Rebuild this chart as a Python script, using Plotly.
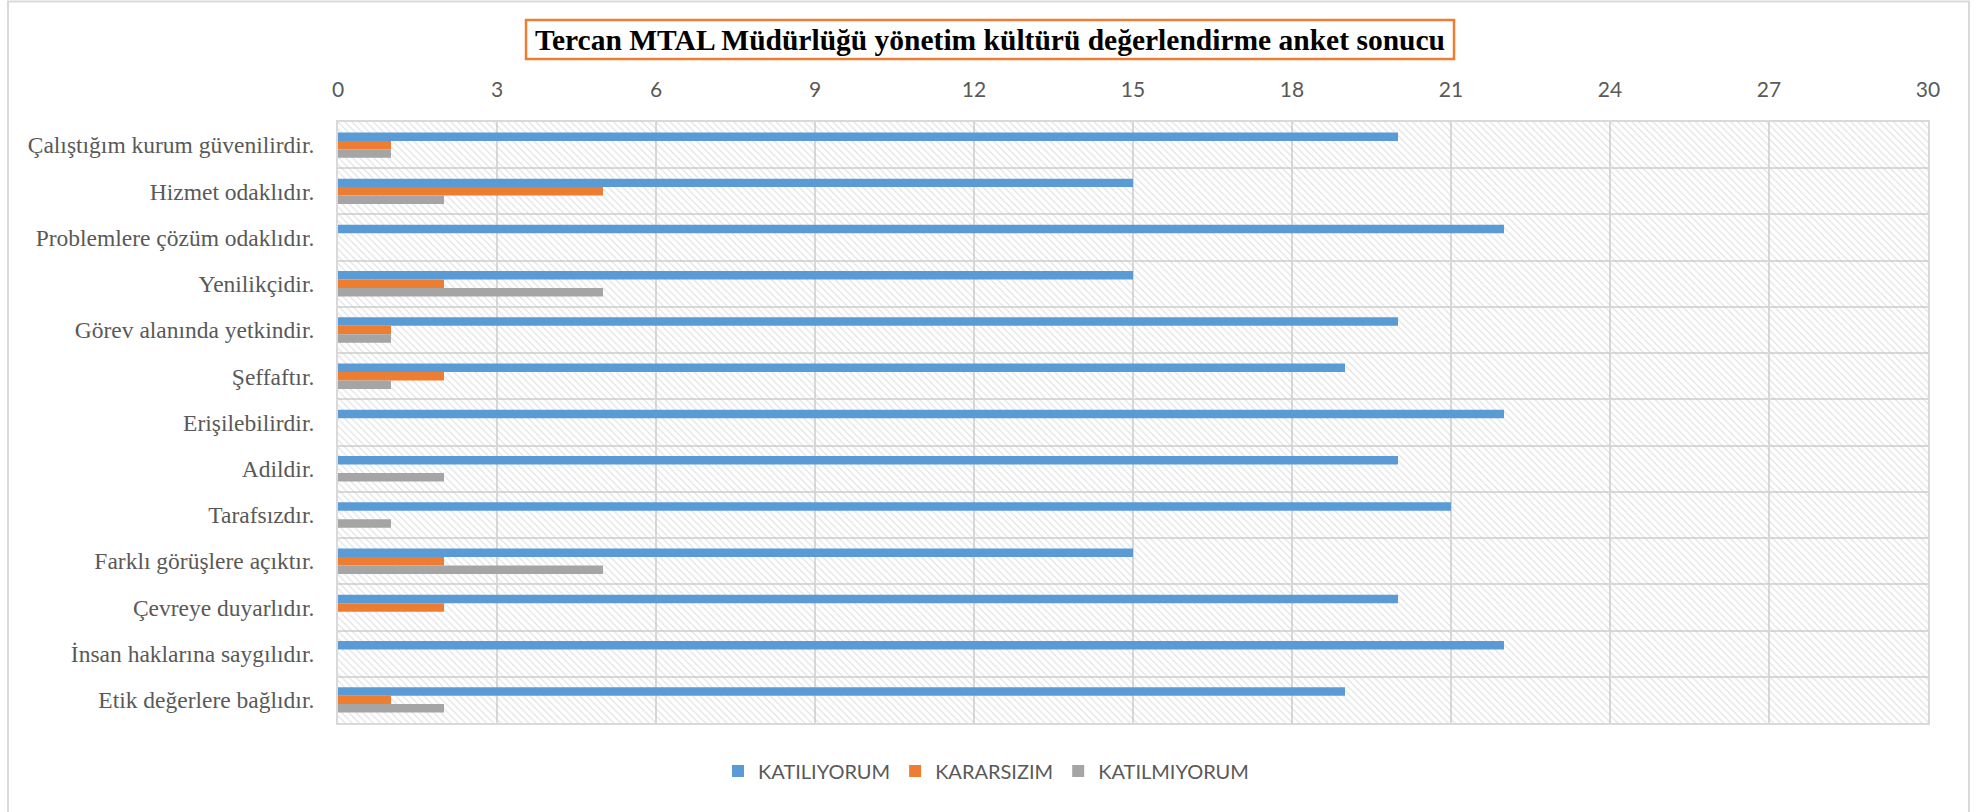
import plotly.graph_objects as go

categories = [
    "Çalıştığım kurum güvenilirdir.",
    "Hizmet odaklıdır.",
    "Problemlere çözüm odaklıdır.",
    "Yenilikçidir.",
    "Görev alanında yetkindir.",
    "Şeffaftır.",
    "Erişilebilirdir.",
    "Adildir.",
    "Tarafsızdır.",
    "Farklı görüşlere açıktır.",
    "Çevreye duyarlıdır.",
    "İnsan haklarına saygılıdır.",
    "Etik değerlere bağlıdır.",
]
katiliyorum = [20, 15, 22, 15, 20, 19, 22, 20, 21, 15, 20, 22, 19]
kararsizim = [1, 5, 0, 2, 1, 2, 0, 0, 0, 2, 2, 0, 1]
katilmiyorum = [1, 2, 0, 5, 1, 1, 0, 2, 1, 5, 0, 0, 2]
series_names = ["KATILIYORUM", "KARARSIZIM", "KATILMIYORUM"]
series_colors = ["#5B9BD5", "#ED7D31", "#A5A5A5"]
x_max = 30
x_step = 3
title = "Tercan MTAL Müdürlüğü yönetim kültürü değerlendirme anket sonucu"

W, H = 1979, 812
L, R, T, B = 338, 51, 122, 89
pw, ph = W - L - R, H - T - B

def px2x(px):
    return (px - L) / pw

def py2y(py):
    return (H - B - py) / ph

fig = go.Figure()

# hatched plot-area background (full band per category)
fig.add_trace(go.Bar(
    y=categories, x=[x_max] * len(categories), orientation="h",
    width=1, yaxis="y", showlegend=False, hoverinfo="skip",
    marker=dict(color="rgba(0,0,0,0)", line=dict(width=0),
                pattern=dict(shape="\\", fgcolor="#c4c4c4", bgcolor="rgba(0,0,0,0)",
                             size=5, solidity=0.24)),
))

for name, vals, col in zip(series_names, [katiliyorum, kararsizim, katilmiyorum], series_colors):
    fig.add_trace(go.Bar(
        y=categories, x=vals, name=name, orientation="h", yaxis="y2",
        marker=dict(color=col, line=dict(width=0)),
    ))

cat_range = [len(categories) - 0.5, -0.5]

fig.update_layout(
    width=W, height=H,
    margin=dict(l=L, r=R, t=T, b=B),
    paper_bgcolor="white", plot_bgcolor="white",
    barmode="group", bargap=0.45, bargroupgap=0,
    xaxis=dict(
        range=[0, x_max], dtick=x_step, tick0=0, side="top",
        showgrid=True, gridcolor="#d9d9d9", gridwidth=2,
        showline=True, linecolor="#d9d9d9", linewidth=2, mirror=True,
        zeroline=False, ticks="outside", ticklen=15, tickcolor="rgba(0,0,0,0)",
        tickfont=dict(family="Lato, sans-serif", size=21, color="#595959"),
    ),
    yaxis=dict(
        type="category", categoryorder="array", categoryarray=categories,
        range=cat_range, tickson="boundaries",
        showgrid=True, gridcolor="#d9d9d9", gridwidth=2,
        showline=True, linecolor="#d9d9d9", linewidth=2, mirror=True,
        ticks="", ticklabelstandoff=17,
        tickfont=dict(family="Liberation Serif, Times New Roman, serif", size=23.5, color="#595959"),
    ),
    yaxis2=dict(
        type="category", categoryorder="array", categoryarray=categories,
        range=cat_range, overlaying="y", visible=False, showgrid=False,
    ),
    legend=dict(
        orientation="h", x=px2x(986), xanchor="center", y=py2y(771), yanchor="middle",
        font=dict(family="Lato, sans-serif", size=20, color="#595959"),
        itemwidth=30, traceorder="normal",
    ),
    showlegend=True,
)

# outer chart border
fig.add_shape(type="rect", xref="paper", yref="paper",
              x0=px2x(8), x1=px2x(1969), y0=py2y(830), y1=py2y(1.5),
              line=dict(color="#d9d9d9", width=2), fillcolor="rgba(0,0,0,0)", layer="below")

# title box
fig.add_shape(type="rect", xref="paper", yref="paper",
              x0=px2x(526), x1=px2x(1454), y0=py2y(59), y1=py2y(20),
              line=dict(color="#ED7D31", width=2.5), fillcolor="white")
fig.add_annotation(text="<b>" + title + "</b>", xref="paper", yref="paper",
                   x=px2x(990), y=py2y(40), xanchor="center", yanchor="middle",
                   showarrow=False,
                   font=dict(family="Liberation Serif, Times New Roman, serif", size=29.5, color="black"))

fig.write_html("out.html", config={"displayModeBar": False},
               post_script="document.body.style.margin='0px';document.body.style.overflow='hidden';")
